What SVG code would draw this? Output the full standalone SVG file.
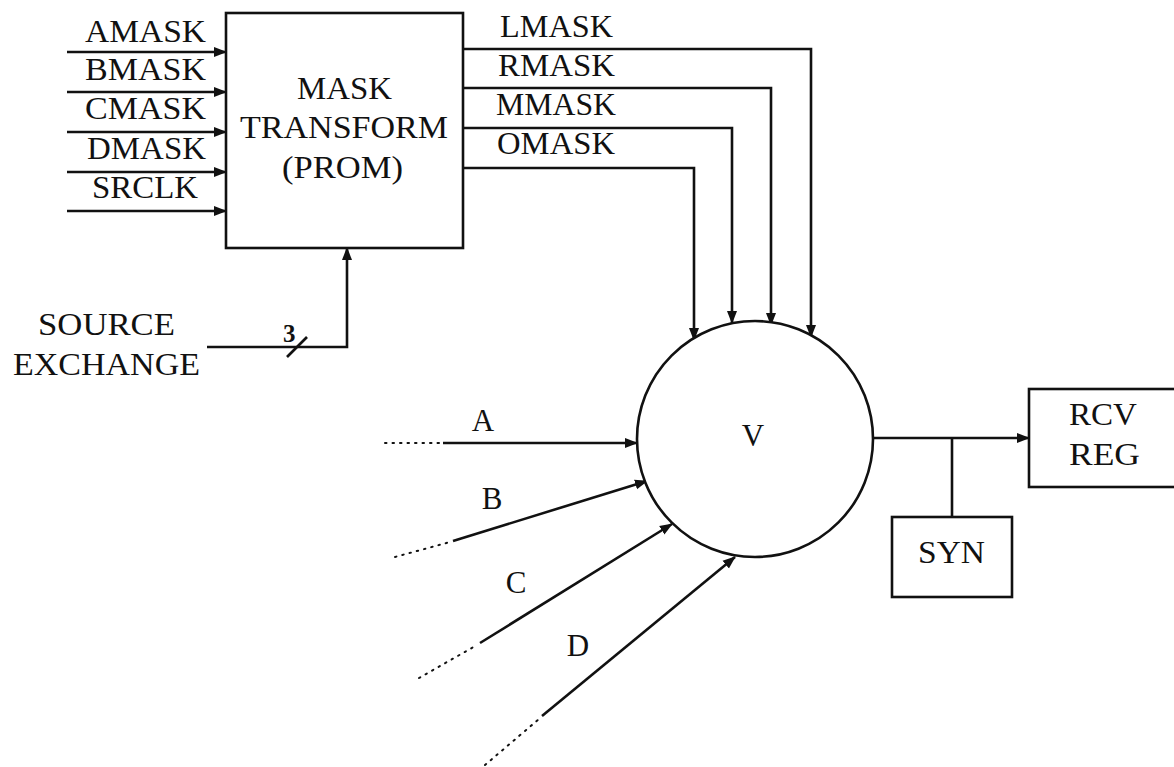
<svg xmlns="http://www.w3.org/2000/svg" width="1174" height="767" viewBox="0 0 1174 767">
<style>
text{font-family:"Liberation Serif","Times New Roman",serif;font-size:31px;fill:#111}
.ln{fill:none;stroke:#111;stroke-width:2.6}
.arr{marker-end:url(#ah)}
.dot{fill:none;stroke:#111;stroke-width:2;stroke-dasharray:1.5 6;stroke-linecap:round}
.box{fill:#fff;stroke:#111;stroke-width:2.6}
</style>
<defs>
<marker id="ah" markerUnits="userSpaceOnUse" markerWidth="14" markerHeight="12" refX="12" refY="6" orient="auto">
<path d="M0,1 L13,6 L0,11 z" fill="#111"/>
</marker>
</defs>
<rect width="1174" height="767" fill="#fff"/>
<g id="connectors">
<line class="ln arr" x1="67" y1="52" x2="226" y2="52"/>
<line class="ln arr" x1="67" y1="92" x2="226" y2="92"/>
<line class="ln arr" x1="67" y1="132" x2="226" y2="132"/>
<line class="ln arr" x1="67" y1="172" x2="226" y2="172"/>
<line class="ln arr" x1="67" y1="211" x2="226" y2="211"/>
<polyline class="ln arr" points="463,49 811,49 811,337"/>
<polyline class="ln arr" points="463,88 771,88 771,325"/>
<polyline class="ln arr" points="463,128 732,128 732,323"/>
<polyline class="ln arr" points="463,168 694,168 694,340"/>
<polyline class="ln arr" points="207,347 347,347 347,248"/>
<line class="ln" x1="287" y1="357" x2="307" y2="337"/>
<line class="ln arr" x1="443" y1="443" x2="637" y2="443"/>
<line class="dot" x1="385" y1="443" x2="440" y2="443"/>
<line class="ln arr" x1="453" y1="541" x2="647" y2="481"/>
<line class="dot" x1="395" y1="557" x2="450" y2="542"/>
<line class="ln arr" x1="480" y1="643" x2="672" y2="524"/>
<line class="dot" x1="419" y1="678" x2="477" y2="645"/>
<line class="ln arr" x1="542" y1="716" x2="735" y2="557"/>
<line class="dot" x1="485" y1="765" x2="539" y2="719"/>
<line class="ln arr" x1="873" y1="438" x2="1029" y2="438"/>
<line class="ln" x1="952" y1="438" x2="952" y2="517"/>
</g>
<g id="input-labels">
<text x="85" y="42" textLength="121" lengthAdjust="spacingAndGlyphs">AMASK</text>
<text x="85" y="80" textLength="121" lengthAdjust="spacingAndGlyphs">BMASK</text>
<text x="85" y="119" textLength="121" lengthAdjust="spacingAndGlyphs">CMASK</text>
<text x="87" y="159" textLength="119" lengthAdjust="spacingAndGlyphs">DMASK</text>
<text x="92" y="198" textLength="106" lengthAdjust="spacingAndGlyphs">SRCLK</text>
</g>
<g id="output-labels">
<text x="500" y="37" textLength="113" lengthAdjust="spacingAndGlyphs">LMASK</text>
<text x="498" y="76" textLength="117" lengthAdjust="spacingAndGlyphs">RMASK</text>
<text x="496" y="115" textLength="120" lengthAdjust="spacingAndGlyphs">MMASK</text>
<text x="497" y="154" textLength="118" lengthAdjust="spacingAndGlyphs">OMASK</text>
</g>
<g id="mask-transform">
<rect class="box" x="226" y="13" width="237" height="235"/>
<text x="297" y="99" textLength="95" lengthAdjust="spacingAndGlyphs">MASK</text>
<text x="240" y="138" textLength="208" lengthAdjust="spacingAndGlyphs">TRANSFORM</text>
<text x="282" y="178" textLength="121" lengthAdjust="spacingAndGlyphs">(PROM)</text>
</g>
<g id="source-exchange">
<text x="38" y="335" textLength="137" lengthAdjust="spacingAndGlyphs">SOURCE</text>
<text x="13" y="375" textLength="187" lengthAdjust="spacingAndGlyphs">EXCHANGE</text>
<text x="283" y="342" style="font-size:25px;font-weight:bold">3</text>
</g>
<g id="V">
<circle class="box" cx="755" cy="439" r="118"/>
<text x="753" y="446" text-anchor="middle">V</text>
</g>
<g id="input-names">
<text x="483" y="431" text-anchor="middle">A</text>
<text x="492" y="509" text-anchor="middle">B</text>
<text x="516" y="593" text-anchor="middle">C</text>
<text x="578" y="656" text-anchor="middle">D</text>
</g>
<g id="rcv-reg">
<rect class="box" x="1029" y="389" width="160" height="98"/>
<text x="1069" y="425" textLength="68" lengthAdjust="spacingAndGlyphs">RCV</text>
<text x="1069" y="465" textLength="71" lengthAdjust="spacingAndGlyphs">REG</text>
</g>
<g id="syn">
<rect class="box" x="892" y="517" width="120" height="80"/>
<text x="918" y="563" textLength="67" lengthAdjust="spacingAndGlyphs">SYN</text>
</g>
</svg>
